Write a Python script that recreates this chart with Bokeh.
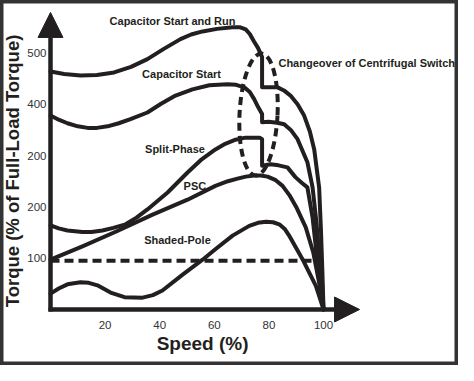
import math
from bokeh.plotting import figure
from bokeh.models import Range1d, FixedTicker, Arrow, NormalHead, ColumnDataSource, LinearAxis
from bokeh.embed import file_html
from bokeh.resources import INLINE
from bokeh.core.properties import value

# ---------------- data ----------------
cap_run_speed = [0, 5, 11, 17, 23.3, 29.5, 35.5, 41.5, 47.6, 51.5, 55.7, 61, 66.7, 69.5, 71.5, 73, 74.6, 76,
                 77.5, 77.5, 83.2, 85.5, 87.9, 90.5, 92.9, 95, 96.6, 98.4, 99.1, 99.6, 100]
cap_run_torque = [464, 459, 456, 457, 462, 473, 488, 508, 527, 536, 542, 547, 550, 550, 546, 537, 522, 510,
                  492, 433, 433, 427, 417, 400, 378, 347, 312, 238, 150, 72, 0]

cap_start_speed = [0, 3, 6.2, 10, 13.6, 17, 20.9, 25, 29.3, 35.5, 40.5, 45.8, 52, 58.2, 64.8, 68, 71.0, 73,
                   74.6, 76, 77.5, 77.5, 79.9, 83, 85.6, 88, 90.5, 94.1, 96.0, 97.4, 98.5, 99.5, 100]
cap_start_torque = [378, 370, 363, 357, 354, 354, 357, 363, 371, 384, 401, 417, 429, 437, 439, 438, 433, 424,
                    410, 395, 381, 365, 366, 364, 361, 350, 332, 287, 238, 170, 101, 49, 0]

split_speed = [0, 3, 6.2, 11.7, 15, 19.0, 23, 27.5, 31.5, 35.5, 42.9, 50.2, 55, 60.4, 64, 67.8, 71.4, 76.6,
               77.5, 77.5, 80.6, 83.5, 86.8, 89.7, 92, 94.1, 96.0, 97.4, 98.7, 100]
split_torque = [164, 158, 154, 151, 151, 154, 159, 166, 179, 195, 228, 267, 291, 312, 323, 331, 335, 335,
                332, 280, 283, 281, 277, 258, 247, 238, 179, 111, 53, 0]

psc_speed = [0, 11.7, 24.5, 37.4, 50.2, 60.4, 65, 68.5, 71.5, 74.7, 77, 79.5, 82.5, 85.0, 87.5, 90.0,
             93.5, 96.3, 98.3, 100]
psc_torque = [97, 123, 153, 185, 214, 241, 250, 255, 259, 261, 261, 259, 252, 241, 223, 200,
              160, 110, 55, 0]

shaded_speed = [0, 3, 6.2, 11.0, 14, 17.2, 22.0, 27.1, 33.7, 37.5, 41.0, 48.4, 55.7, 60.5, 66.7, 72.8, 76,
                78.9, 81.5, 83.8, 85.8, 87.4, 92.3, 97.2, 100]
shaded_torque = [31, 41, 49, 53, 52, 47, 33, 24, 23, 28, 37, 68, 97, 118, 144, 163, 169,
                 171, 170, 166, 157, 144, 98, 46, 0]

full_load_speed = [0, 97]
full_load_torque = [95, 95]

switch_speed = [76.2]
switch_torque = [380]

speed_ticks = [20, 40, 60, 80, 100]
torque_ticks = [100, 200, 300, 400, 500]
torque_tick_labels = ["100", "200", "200", "400", "500"]

curve_names = ["Capacitor Start and Run", "Capacitor Start", "Split-Phase", "PSC", "Shaded-Pole"]
name_x = [44.7, 48.0, 45.6, 52.9, 46.5]
name_y = [563, 460, 312, 240, 136]

switch_text = ["Changeover of Centrifugal Switch"]
switch_text_x = [83.5]
switch_text_y = [481]

x_title = ["Speed (%)"]
x_title_pos = ([55.7], [-66.3])
y_title = ["Torque (% of Full-Load Torque)"]
y_title_pos = ([-14.1], [270])

speed_axis_end = 104.4
speed_axis_tip = 113.2
torque_axis_end = 530
torque_axis_tip = 579

INK = "#231f20"
FONT = "Liberation Sans"

p = figure(width=458, height=365, output_backend="svg", toolbar_location=None, title=None,
           x_range=Range1d(-18.32, 149.45), y_range=Range1d(-109.2, 602.3),
           x_axis_location=None, y_axis_location=None,
           min_border_left=0, min_border_right=0, min_border_top=0, min_border_bottom=0)
p.background_fill_color = "white"
p.border_fill_color = "white"
p.outline_line_color = "#333333"
p.outline_line_width = 6
p.xgrid.visible = False
p.ygrid.visible = False

def style_axis(ax, standoff):
    ax.axis_line_color = INK
    ax.axis_line_width = 4.5
    ax.major_tick_line_color = None
    ax.minor_tick_line_color = None
    ax.major_tick_out = 0
    ax.major_tick_in = 0
    ax.minor_tick_out = 0
    ax.minor_tick_in = 0
    ax.major_label_text_font = FONT
    ax.major_label_text_font_size = "11.5px"
    ax.major_label_text_color = "#333333"
    ax.major_label_standoff = standoff

yax = LinearAxis(fixed_location=0, bounds=(-4.5, torque_axis_end),
                 ticker=FixedTicker(ticks=torque_ticks))
style_axis(yax, 4)
yax.major_label_overrides = {t: l for t, l in zip(torque_ticks, torque_tick_labels)}
p.add_layout(yax, "left")

xax = LinearAxis(fixed_location=0, bounds=(-0.8, speed_axis_end),
                 ticker=FixedTicker(ticks=speed_ticks))
style_axis(xax, 12)
p.add_layout(xax, "below")

# arrow heads
p.add_layout(Arrow(end=NormalHead(size=25, fill_color=INK, line_color=INK, line_width=1),
                   x_start=0, y_start=torque_axis_end - 1, x_end=0, y_end=torque_axis_tip,
                   line_alpha=0))
p.add_layout(Arrow(end=NormalHead(size=25, fill_color=INK, line_color=INK, line_width=1),
                   x_start=speed_axis_end - 0.5, y_start=0, x_end=speed_axis_tip, y_end=0,
                   line_alpha=0))

# full-load dashed line
p.line(full_load_speed, full_load_torque, line_color=INK, line_width=4, line_dash="9 5")

# curves
for sx, ty in [(cap_run_speed, cap_run_torque), (cap_start_speed, cap_start_torque),
               (split_speed, split_torque), (psc_speed, psc_torque), (shaded_speed, shaded_torque)]:
    p.line(sx, ty, line_color=INK, line_width=4, line_join="round", line_cap="round")

# centrifugal switch ellipse
p.ellipse(x=switch_speed, y=switch_torque, width=38, height=122, width_units="screen",
          height_units="screen", angle=-0.05, fill_color=None, line_color=INK,
          line_width=4, line_dash="8 5")

# curve names and annotation text
src = ColumnDataSource(dict(x=name_x, y=name_y, text=curve_names))
p.text(x="x", y="y", text="text", source=src, text_align="center",
       text_baseline="middle", text_font=value(FONT), text_font_style="bold",
       text_font_size="11px", text_color=INK)
p.text(x=switch_text_x, y=switch_text_y, text=switch_text, text_align="left",
       text_baseline="middle", text_font=value(FONT), text_font_style="bold",
       text_font_size="11px", text_color=INK)

# axis titles
p.text(x=x_title_pos[0], y=x_title_pos[1], text=x_title, text_align="center",
       text_baseline="middle", text_font=value(FONT), text_font_style="bold",
       text_font_size="19px", text_color=INK)
p.text(x=y_title_pos[0], y=y_title_pos[1], text=y_title, angle=math.pi / 2,
       text_align="center", text_baseline="middle", text_font=value(FONT),
       text_font_style="bold", text_font_size="18.5px", text_color=INK)

open("out.html", "w").write(file_html(p, INLINE))
